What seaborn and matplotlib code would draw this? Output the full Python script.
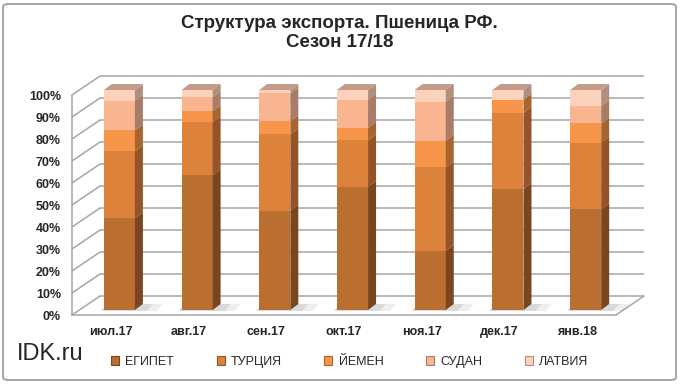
import matplotlib
matplotlib.use("Agg")
import matplotlib.pyplot as plt
from matplotlib.patches import Polygon, Patch, FancyBboxPatch
from matplotlib.transforms import offset_copy
import seaborn as sns
import numpy as np

# export shares, % of monthly total
months = ["июл.17", "авг.17", "сен.17", "окт.17", "ноя.17", "дек.17", "янв.18"]
countries = ["ЕГИПЕТ", "ТУРЦИЯ", "ЙЕМЕН", "СУДАН", "ЛАТВИЯ"]
egypt = [41.7, 61.3, 45.2, 56.0, 27.0, 55.0, 45.8]
turkey = [30.4, 24.1, 34.6, 21.1, 37.9, 34.6, 30.3]
yemen = [9.5, 4.9, 5.9, 5.7, 12.1, 5.9, 8.7]
sudan = [13.6, 6.4, 12.8, 12.8, 17.7, 0.0, 8.0]
latvia = [4.8, 3.3, 1.5, 4.4, 5.3, 4.5, 7.2]
y_ticks = list(range(0, 101, 10))

front_colors = ["#BA6E30", "#DC823B", "#F7964A", "#F9B58F", "#FCD2BD"]
side_colors = ["#7A4620", "#955427", "#A8642F", "#A87C66", "#B08F80"]
top_color = "#C49C88"
grid_c = "#A6A6A6"

sns.set_style("white")
plt.rcParams["font.family"] = ["Liberation Sans", "DejaVu Sans"]

W, H = 680, 384
fig = plt.figure(figsize=(W / 100, H / 100), dpi=100)
ax = fig.add_axes([72 / W, 1 - 315 / H, 544 / W, 220 / H])

shares = np.array([egypt, turkey, yemen, sudan, latvia])
cum = np.cumsum(shares, axis=0)

# tallest cumulative bar first, lower segments painted over it
for k in range(len(countries) - 1, -1, -1):
    sns.barplot(x=months, y=cum[k], color=front_colors[k], saturation=1,
                width=0.4, errorbar=None, edgecolor="none", ax=ax, zorder=3)

ax.set_xlim(-0.5, 6.5)
ax.set_ylim(0, 100)

# pixel -> data unit helpers (fixed axes size)
px_x = 544 / 7
px_y = 220 / 100
ddx, ddy = 8 / px_x, 6 / px_y

bar_tr = offset_copy(ax.transData, fig=fig, x=8.5, y=5, units="dots")
wall_tr = offset_copy(ax.transData, fig=fig, x=28, y=19, units="dots")

n = len(countries)
for k in range(n):
    cont = ax.containers[n - 1 - k]
    below = ax.containers[n - k] if k > 0 else None
    for i, p in enumerate(cont.patches):
        p.set_transform(bar_tr)
        p.set_clip_on(False)
        x0, w, t = p.get_x(), p.get_width(), p.get_height()
        b = below.patches[i].get_height() if below is not None else 0
        side = Polygon([(x0 + w, b), (x0 + w, t), (x0 + w + ddx, t + ddy), (x0 + w + ddx, b + ddy)],
                       closed=True, fc=side_colors[k], ec="none", transform=bar_tr,
                       zorder=3, clip_on=False)
        ax.add_patch(side)
        if k == n - 1:
            top = Polygon([(x0, t), (x0 + w, t), (x0 + w + ddx, t + ddy), (x0 + ddx, t + ddy)],
                          closed=True, fc=top_color, ec="none", transform=bar_tr,
                          zorder=3, clip_on=False)
            ax.add_patch(top)
        if k == 0:
            # soft floor shadow, two layers for a rough fade
            for ext, a in [(22, 0.12), (12, 0.18)]:
                sh = Polygon([(x0 - 3 / px_x, -1 / px_y), (x0 + w + ext / px_x, -1 / px_y),
                              (x0 + w + (ext + 6) / px_x, 6 / px_y), (x0 + 3 / px_x, 6 / px_y)],
                             closed=True, fc="#7A7A7A", ec="none", alpha=a,
                             transform=bar_tr, zorder=2, clip_on=False)
                ax.add_patch(sh)

# back wall, side wall and floor
ax.hlines(y_ticks, -0.5, 6.5, transform=wall_tr, colors=grid_c, lw=1.1, zorder=1, clip_on=False)
for v in y_ticks:
    ax.plot([-0.5, -0.5 + 28 / px_x], [v, v + 19 / px_y], color=grid_c, lw=1.1,
            zorder=1, clip_on=False)
ax.plot([6.5, 6.5 + 28 / px_x], [0, 19 / px_y], color=grid_c, lw=1.1, zorder=1, clip_on=False)

for s in ["top", "right"]:
    ax.spines[s].set_visible(False)
for s in ["left", "bottom"]:
    ax.spines[s].set_color(grid_c)
    ax.spines[s].set_linewidth(1.1)

ax.set_yticks(y_ticks)
ax.set_yticklabels([f"{v}%" for v in y_ticks], fontweight="bold", fontsize=9)
ax.set_xticks(range(len(months)))
ax.set_xticklabels(months, fontweight="bold", fontsize=9)
ax.set_xticks(np.arange(-0.5, len(months), 1), minor=True)
ax.tick_params(axis="y", length=3, width=0.8, color=grid_c, pad=5)
ax.tick_params(axis="x", which="major", length=0, pad=8)
ax.tick_params(axis="x", which="minor", length=3, width=0.8, color=grid_c)
ax.set_xlabel("")
ax.set_ylabel("")
ax.patch.set_alpha(0)

fig.text(0.4995, 1 - 33 / H, "Структура экспорта. Пшеница РФ.\nСезон 17/18",
         ha="center", va="center", fontsize=13.5, fontweight="bold", linespacing=1.1)
fig.text(17 / W, 1 - 354 / H, "IDK.ru", fontsize=17, ha="left", va="center")

handles = [Patch(facecolor=front_colors[k], edgecolor=side_colors[k], lw=0.8) for k in range(n)]
fig.legend(handles, countries, ncol=n, loc="center left", bbox_to_anchor=(111 / W, 1 - 362 / H),
           frameon=False, fontsize=9, handlelength=0.64, handleheight=0.64,
           handletextpad=0.5, columnspacing=3.4, borderpad=0, borderaxespad=0)

fig.patches.append(FancyBboxPatch((3 / W, 4 / H), 673 / W, 376 / H,
                                  boxstyle="round,pad=0,rounding_size=0.008",
                                  transform=fig.transFigure, fill=False, ec="#A8A8A8", lw=1.5))

fig.savefig("out.png", dpi=100)
